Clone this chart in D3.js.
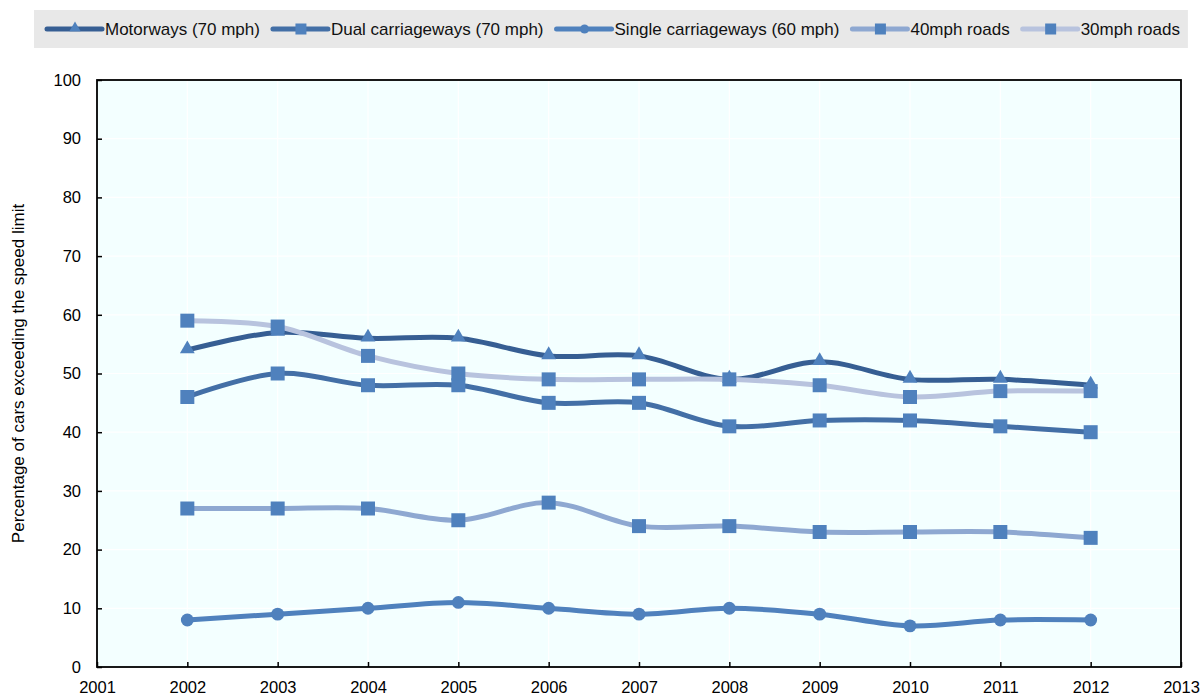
<!DOCTYPE html>
<html>
<head>
<meta charset="utf-8">
<script src="https://cdn.jsdelivr.net/npm/d3@7"></script>
<style>
  html, body { margin: 0; padding: 0; background: #ffffff; }
  svg { display: block; font-family: "Liberation Sans", Arial, sans-serif; }
</style>
</head>
<body>
<svg id="chart" width="1201" height="699"></svg>
<script>
// Share of cars exceeding the speed limit, by road type (Great Britain)
const years = [2002, 2003, 2004, 2005, 2006, 2007, 2008, 2009, 2010, 2011, 2012];
const motorways = [54, 57, 56, 56, 53, 53, 49, 52, 49, 49, 48];
const dualCarriageways = [46, 50, 48, 48, 45, 45, 41, 42, 42, 41, 40];
const singleCarriageways = [8, 9, 10, 11, 10, 9, 10, 9, 7, 8, 8];
const roads40 = [27, 27, 27, 25, 28, 24, 24, 23, 23, 23, 22];
const roads30 = [59, 58, 53, 50, 49, 49, 49, 48, 46, 47, 47];
const seriesNames = ["Motorways (70 mph)", "Dual carriageways (70 mph)", "Single carriageways (60 mph)", "40mph roads", "30mph roads"];
const xTicks = [2001, 2002, 2003, 2004, 2005, 2006, 2007, 2008, 2009, 2010, 2011, 2012, 2013];
const yTicks = [0, 10, 20, 30, 40, 50, 60, 70, 80, 90, 100];
const yTitle = "Percentage of cars exceeding the speed limit";

const series = [
  { name: seriesNames[0], values: motorways, line: "#365e93", marker: "triangle" },
  { name: seriesNames[1], values: dualCarriageways, line: "#436fa6", marker: "square" },
  { name: seriesNames[2], values: singleCarriageways, line: "#4f81bd", marker: "circle" },
  { name: seriesNames[3], values: roads40, line: "#8ea8d1", marker: "square" },
  { name: seriesNames[4], values: roads30, line: "#b8c3de", marker: "square" }
];
const markerFill = "#4f81bd";

const svg = d3.select("#chart");
const plot = { left: 97, right: 1181, top: 80, bottom: 667 };

const x = d3.scaleLinear().domain([2001, 2013]).range([plot.left, plot.right]);
const y = d3.scaleLinear().domain([0, 100]).range([plot.bottom, plot.top]);

// plot background
svg.append("rect")
  .attr("x", plot.left).attr("y", plot.top)
  .attr("width", plot.right - plot.left).attr("height", plot.bottom - plot.top)
  .attr("fill", "#f3ffff");

// white gridlines
const grid = svg.append("g").attr("stroke", "#ffffff").attr("stroke-width", 1.2);
grid.selectAll("line.h").data(yTicks.slice(1, -1)).join("line")
  .attr("x1", plot.left).attr("x2", plot.right)
  .attr("y1", d => y(d)).attr("y2", d => y(d));
grid.selectAll("line.v").data(xTicks.slice(1, -1)).join("line")
  .attr("y1", plot.top).attr("y2", plot.bottom)
  .attr("x1", d => x(d)).attr("x2", d => x(d));

// axes with inward ticks
const yAxis = svg.append("g")
  .attr("transform", `translate(${plot.left},0)`)
  .call(d3.axisLeft(y).tickValues(yTicks).tickSizeInner(-5).tickSizeOuter(0).tickPadding(16));
const xAxis = svg.append("g")
  .attr("transform", `translate(0,${plot.bottom})`)
  .call(d3.axisBottom(x).tickValues(xTicks).tickFormat(d3.format("d")).tickSizeInner(-5).tickSizeOuter(0).tickPadding(14));
[yAxis, xAxis].forEach(g => {
  g.select(".domain").remove();
  g.selectAll(".tick line").attr("stroke", "#000").attr("stroke-width", 1.5);
  g.selectAll(".tick text").attr("font-size", 16.5).attr("fill", "#000")
    .attr("font-family", "'Liberation Sans', Arial, sans-serif");
});

// frame
svg.append("rect")
  .attr("x", plot.left).attr("y", plot.top)
  .attr("width", plot.right - plot.left).attr("height", plot.bottom - plot.top)
  .attr("fill", "none").attr("stroke", "#000").attr("stroke-width", 1.8);

// y axis title
svg.append("text")
  .attr("transform", `translate(24,${(plot.top + plot.bottom) / 2}) rotate(-90)`)
  .attr("text-anchor", "middle")
  .attr("font-size", 17)
  .attr("fill", "#000")
  .text(yTitle);

// marker shapes: full size on the plot, smaller in the legend
function symbolPath(kind, small) {
  const type = kind === "triangle" ? d3.symbolTriangle : kind === "circle" ? d3.symbolCircle : d3.symbolSquare;
  const size = small
    ? { triangle: 55, square: 121, circle: 64 }[kind]
    : { triangle: 95, square: 196, circle: 130 }[kind];
  return d3.symbol().type(type).size(size)();
}
function drawMarker(g, kind, cx, cy, small) {
  const dy = kind === "triangle" ? -1 : 0;
  g.append("path")
    .attr("d", symbolPath(kind, small))
    .attr("transform", `translate(${cx},${cy + dy})`)
    .attr("fill", markerFill);
}

const line = d3.line()
  .x((d, i) => x(years[i]))
  .y(d => y(d))
  .curve(d3.curveCatmullRom.alpha(0.5));

series.forEach(s => {
  const g = svg.append("g");
  g.append("path")
    .attr("d", line(s.values))
    .attr("fill", "none")
    .attr("stroke", s.line)
    .attr("stroke-width", 5)
    .attr("stroke-linejoin", "round");
  s.values.forEach((v, i) => drawMarker(g, s.marker, x(years[i]), y(v), false));
});

// legend
const legend = svg.append("g");
const legendBg = legend.append("rect")
  .attr("x", 34).attr("y", 10).attr("height", 38)
  .attr("fill", "#e8e8e8");
let lx = 47;
const ly = 29;
series.forEach(s => {
  const item = legend.append("g");
  item.append("line")
    .attr("x1", lx).attr("x2", lx + 55).attr("y1", ly).attr("y2", ly)
    .attr("stroke", s.line).attr("stroke-width", 5).attr("stroke-linecap", "round");
  drawMarker(item, s.marker, lx + 28, ly, true);
  const t = item.append("text")
    .attr("x", lx + 58).attr("y", ly + 6)
    .attr("font-size", 17).attr("fill", "#111")
    .text(s.name);
  lx += 58 + t.node().getComputedTextLength() + 13;
});
legendBg.attr("width", lx - 13 + 8 - 34);
</script>
</body>
</html>
